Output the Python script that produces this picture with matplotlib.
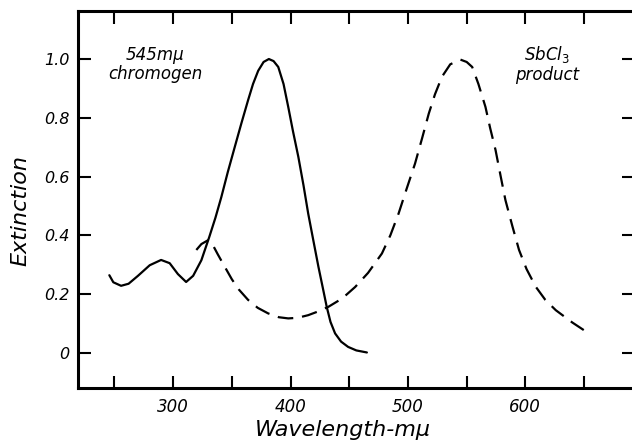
import matplotlib
matplotlib.use('Agg')
import matplotlib.pyplot as plt

# chromogen curve (solid)
chrom_wl = [245.6, 249, 255.6, 262, 270, 280, 289.7, 297, 304, 311, 317, 324,
            330.8, 336, 341, 346.5, 352.4, 358, 363.8, 368, 372.4, 377, 381.5,
            385.5, 389.5, 394, 398, 402, 406.6, 411, 415, 419.5, 423.7, 427.5,
            430.8, 434, 437.9, 443, 449, 456, 465]
chrom_ext = [0.264, 0.240, 0.228, 0.235, 0.262, 0.298, 0.316, 0.305, 0.268, 0.241,
             0.262, 0.315, 0.395, 0.46, 0.53, 0.615, 0.70, 0.78, 0.86, 0.915, 0.96,
             0.99, 1.0, 0.993, 0.973, 0.915, 0.837, 0.755, 0.667, 0.57, 0.474, 0.38,
             0.293, 0.22, 0.156, 0.105, 0.066, 0.038, 0.02, 0.008, 0.001]

# SbCl3 product curve (dashed)
prod_wl = [319.7, 324, 329.6, 334, 338, 343.9, 350, 356, 363.8, 372, 380.9, 390,
           398, 406, 415, 423, 432, 444, 455, 466, 477.8, 485, 492, 499, 506, 512,
           517.7, 523, 529, 536, 544.7, 550, 554.7, 560, 566, 570, 574.6, 579, 583,
           589, 594.6, 601, 608.8, 617, 625.9, 640, 654]
prod_ext = [0.35, 0.37, 0.383, 0.365, 0.335, 0.293, 0.25, 0.215, 0.18, 0.153, 0.134,
            0.121, 0.117, 0.119, 0.128, 0.14, 0.156, 0.185, 0.224, 0.272, 0.338, 0.40,
            0.474, 0.56, 0.644, 0.73, 0.814, 0.88, 0.94, 0.982, 0.998, 0.99, 0.973,
            0.915, 0.837, 0.765, 0.69, 0.60, 0.52, 0.43, 0.35, 0.285, 0.225, 0.18,
            0.145, 0.103, 0.066]

x_ticks = [250, 300, 350, 400, 450, 500, 550, 600, 650]
x_tick_labels = ['', '300', '', '400', '', '500', '', '600', '']
y_ticks = [0, 0.2, 0.4, 0.6, 0.8, 1.0]
y_tick_labels = ['0', '0.2', '0.4', '0.6', '0.8', '1.0']

fig = plt.figure(figsize=(6.32, 4.46), dpi=100, facecolor='w')
ax = fig.add_axes([0.1234, 0.130, 0.8797, 0.845])

ax.plot(chrom_wl, chrom_ext, color='k', lw=1.6,
        solid_capstyle='round', solid_joinstyle='round')
line, = ax.plot(prod_wl, prod_ext, color='k', lw=1.6, dash_joinstyle='round')
line.set_dashes((7, 4))

ax.set_xlim(218.9, 692.5)
ax.set_ylim(-0.120, 1.163)

ax.set_xticks(x_ticks)
ax.set_xticklabels(x_tick_labels, fontsize=12, style='italic')
ax.set_yticks(y_ticks)
ax.set_yticklabels(y_tick_labels, fontsize=11.5, style='italic')
ax.tick_params(direction='in', length=9, width=1.5, top=True, right=True)
ax.tick_params(axis='x', pad=7)
ax.tick_params(axis='y', pad=6)

for sp in ax.spines.values():
    sp.set_linewidth(2.2)
ax.spines['right'].set_visible(False)

ax.set_xlabel('Wavelength-m\u03bc', fontsize=16, style='italic')
ax.xaxis.set_label_coords(0.477, -0.111)
ax.xaxis.label.set_va('center')
ax.set_ylabel('Extinction', fontsize=16, style='italic')
ax.yaxis.set_label_coords(-0.103, 0.472)
ax.yaxis.label.set_va('center')

ax.text(284.5, 0.982, '545m\u03bc\nchromogen', fontsize=12, style='italic',
        ha='center', va='center', linespacing=1.05)
ax.text(618.4, 0.982, 'SbCl$_3$\nproduct', fontsize=12, style='italic',
        ha='center', va='center', linespacing=1.05)

fig.savefig('out.png', dpi=100)
